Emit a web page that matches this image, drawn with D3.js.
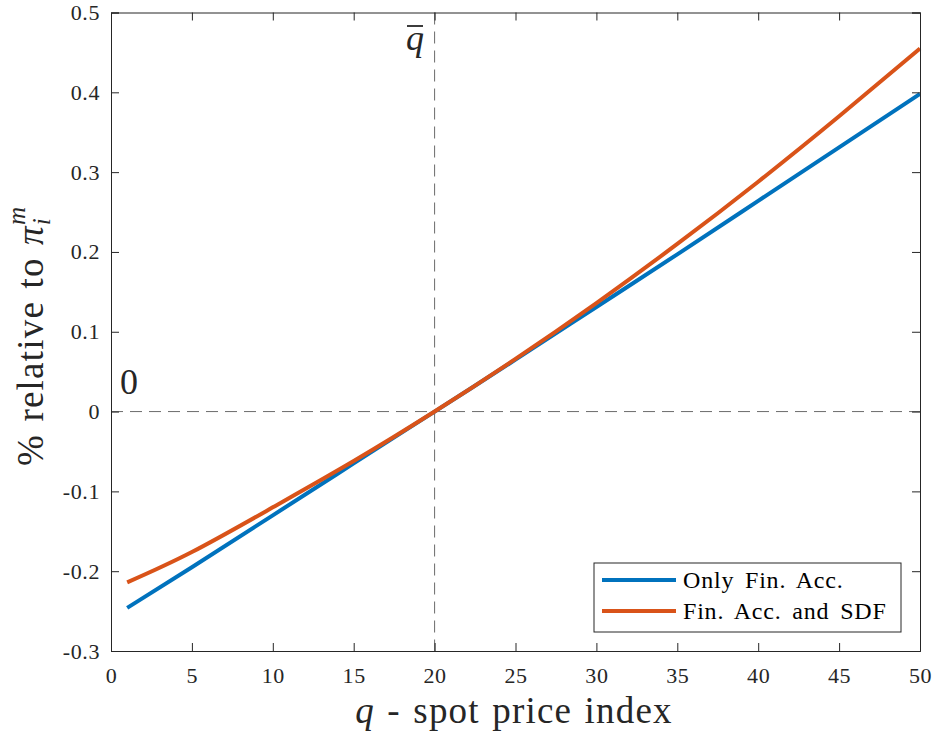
<!DOCTYPE html>
<html><head><meta charset="utf-8">
<script src="https://cdn.jsdelivr.net/npm/d3@7"></script>
<style>body{margin:0;background:#fff}</style>
</head><body>
<svg id="chart" width="936" height="738"></svg>
<script>
const qValues = [1, 5, 10, 15, 20, 25, 30, 35, 40, 45, 50];
const onlyFinAcc = [-0.246, -0.195, -0.130, -0.065, 0, 0.065, 0.131, 0.197, 0.264, 0.331, 0.398];
const finAccSDF = [-0.214, -0.176, -0.120, -0.062, 0, 0.066, 0.136, 0.210, 0.288, 0.370, 0.455];
const xTicks = [0, 5, 10, 15, 20, 25, 30, 35, 40, 45, 50];
const yTicks = [-0.3, -0.2, -0.1, 0, 0.1, 0.2, 0.3, 0.4, 0.5];
const seriesNames = ["Only Fin. Acc.", "Fin. Acc. and SDF"];
const qBar = 20;

const FONT = "Liberation Serif";
const svg = d3.select("#chart");
const L = 111, R = 920, T = 12.5, B = 651;
const x = d3.scaleLinear().domain([0, 50]).range([L, R]);
const y = d3.scaleLinear().domain([-0.3, 0.5]).range([B, T]);
const axisCol = "#262626";

// dashed reference lines
svg.append("line").attr("x1", x(qBar)).attr("x2", x(qBar)).attr("y1", T).attr("y2", B)
  .attr("stroke", "#6b6b6b").attr("stroke-width", 1).attr("stroke-dasharray", "12,7");
svg.append("line").attr("x1", L).attr("x2", R).attr("y1", y(0)).attr("y2", y(0))
  .attr("stroke", "#6b6b6b").attr("stroke-width", 1).attr("stroke-dasharray", "12,7");

// series
const colors = ["#0072BD", "#D95319"];
const line = d3.line().x((d, i) => x(qValues[i])).y(d => y(d)).curve(d3.curveNatural);
[onlyFinAcc, finAccSDF].forEach((s, k) => {
  svg.append("path").attr("d", line(s)).attr("fill", "none")
    .attr("stroke", colors[k]).attr("stroke-width", 4);
});

// axes
const tl = 8;
const yFmt = d => d === 0 ? "0" : d3.format(".1f")(d).replace("−", "-");
const gx = svg.append("g").attr("transform", `translate(0,${B})`)
  .call(d3.axisBottom(x).tickValues(xTicks).tickSize(-tl).tickPadding(16).tickFormat(d3.format("d")));
const gxt = svg.append("g").attr("transform", `translate(0,${T})`)
  .call(d3.axisTop(x).tickValues(xTicks).tickSize(-tl).tickFormat(""));
const gy = svg.append("g").attr("transform", `translate(${L},0)`)
  .call(d3.axisLeft(y).tickValues(yTicks).tickSize(-tl).tickPadding(11).tickFormat(yFmt));
const gyr = svg.append("g").attr("transform", `translate(${R},0)`)
  .call(d3.axisRight(y).tickValues(yTicks).tickSize(-tl).tickFormat(""));
[gx, gxt, gy, gyr].forEach(g => {
  g.attr("font-family", FONT).attr("font-size", 22);
  g.selectAll("path").attr("stroke", axisCol).attr("stroke-width", 1);
  g.selectAll("line").attr("stroke", axisCol).attr("stroke-width", 1);
  g.selectAll("text").attr("fill", axisCol).attr("font-family", FONT).attr("font-size", 22)
    .attr("letter-spacing", "0.6px");
});

// annotations
svg.append("text").attr("x", 415).attr("y", 50).attr("text-anchor", "middle")
  .attr("font-family", FONT).attr("font-size", 36).attr("font-style", "italic").attr("fill", axisCol).text("q");
svg.append("line").attr("x1", 407).attr("x2", 423).attr("y1", 26).attr("y2", 26).attr("stroke", axisCol).attr("stroke-width", 1.8);
svg.append("text").attr("x", 129).attr("y", 394).attr("text-anchor", "middle")
  .attr("font-family", FONT).attr("font-size", 36).attr("fill", axisCol).text("0");

// axis labels
const xl = svg.append("text").attr("x", 514).attr("y", 723).attr("text-anchor", "middle")
  .attr("font-family", FONT).attr("font-size", 37).attr("letter-spacing", "1.2px").attr("word-spacing", "2px").attr("fill", axisCol);
xl.append("tspan").attr("font-style", "italic").text("q");
xl.append("tspan").text(" - spot price index");

const yl = svg.append("text").attr("transform", "translate(43,466) rotate(-90)").attr("text-anchor", "start")
  .attr("font-family", FONT).attr("font-size", 37).attr("letter-spacing", "1.2px").attr("word-spacing", "2px").attr("fill", axisCol);
yl.append("tspan").text("% relative to ");
yl.append("tspan").attr("font-style", "italic").text("π");
yl.append("tspan").attr("font-style", "italic").attr("font-size", 25).attr("dy", 7).text("i");
yl.append("tspan").attr("font-style", "italic").attr("font-size", 25).attr("dx", -8).attr("dy", -25).text("m");

// legend
const lg = svg.append("g");
lg.append("rect").attr("x", 594).attr("y", 563).attr("width", 307).attr("height", 69)
  .attr("fill", "#fff").attr("stroke", axisCol).attr("stroke-width", 1);
seriesNames.forEach((n, i) => {
  const yy = 580 + i * 31;
  lg.append("line").attr("x1", 602).attr("x2", 676).attr("y1", yy).attr("y2", yy)
    .attr("stroke", colors[i]).attr("stroke-width", 4);
  lg.append("text").attr("x", 683).attr("y", yy + 8).attr("font-family", FONT).attr("font-size", 24)
    .attr("letter-spacing", "0.8px").attr("word-spacing", "4px")
    .attr("fill", "#000").text(n);
});
</script>
</body></html>
